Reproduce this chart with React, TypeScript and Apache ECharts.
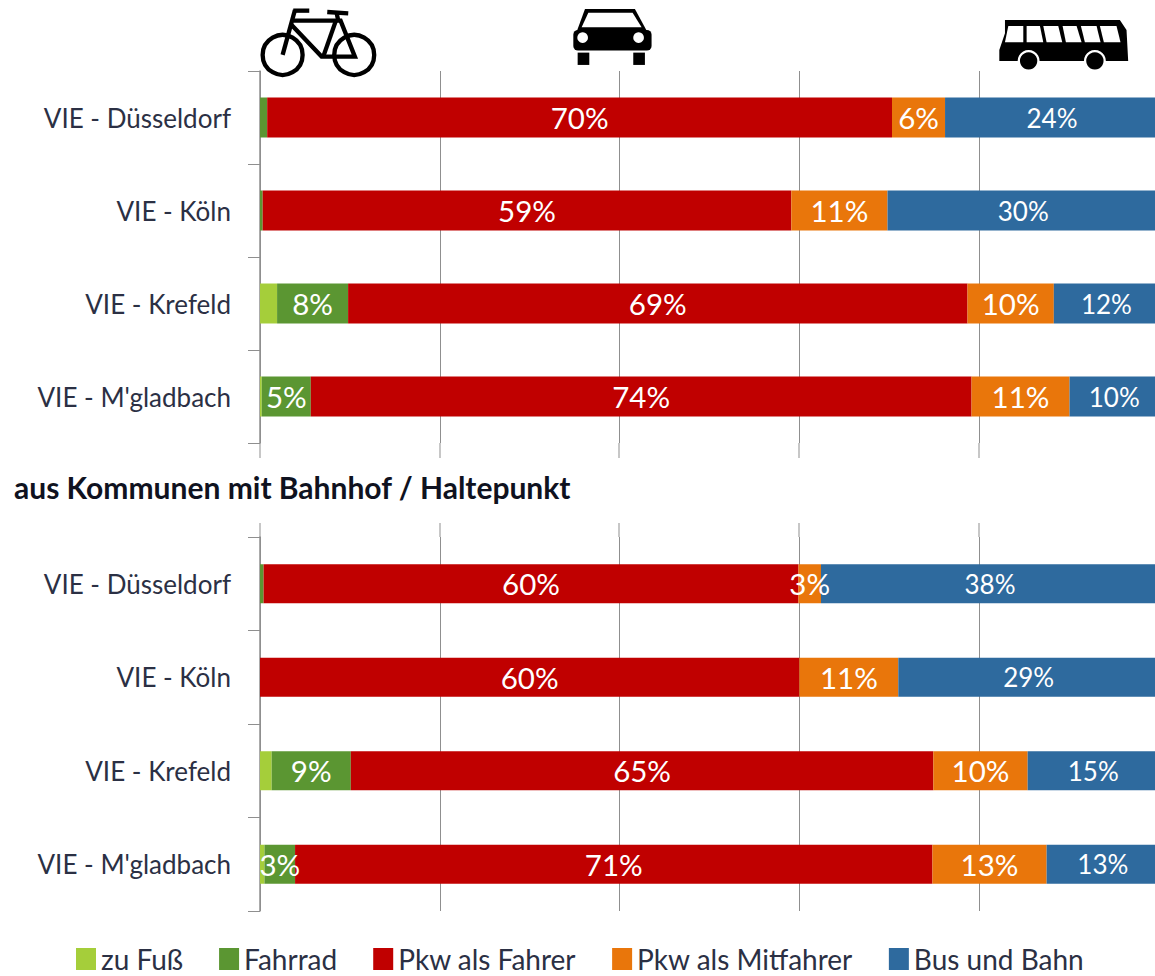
import React, { useEffect, useRef } from "react";
import * as echarts from "echarts";

const categories = ["VIE - Düsseldorf", "VIE - Köln", "VIE - Krefeld", "VIE - M'gladbach"];
const seriesNames = ["zu Fuß", "Fahrrad", "Pkw als Fahrer", "Pkw als Mitfahrer", "Bus und Bahn"];
const colors = ["#A5CE3A", "#5B9632", "#C00000", "#E9760B", "#2E6A9E"];
const title2 = "aus Kommunen mit Bahnhof / Haltepunkt";

const topFoot = [0, 0, 1.9, 0.2];
const topBike = [0.8, 0.3, 7.9, 5.45];
const topDriver = [69.5, 58.8, 68.9, 73.5];
const topPassenger = [5.9, 10.7, 9.6, 10.9];
const topTransit = [23.8, 30.2, 11.7, 9.95];

const bottomFoot = [0, 0, 1.3, 0.5];
const bottomBike = [0.4, 0, 8.8, 3.4];
const bottomDriver = [59.5, 60, 64.8, 70.9];
const bottomPassenger = [2.5, 11, 10.49, 12.7];
const bottomTransit = [37.6, 29, 14.6, 12.5];

const topValues = [topFoot, topBike, topDriver, topPassenger, topTransit];
const bottomValues = [bottomFoot, bottomBike, bottomDriver, bottomPassenger, bottomTransit];

const FONT = "Lato, 'Open Sans', sans-serif";
const INK = "#2B3044";
const LINE = "#8F8F8F";
const GRID_XS = [260, 440, 619, 799, 979];

function bike() {
  const s = { stroke: "#000", fill: "none", lineWidth: 13 };
  return {
    type: "group", x: 240, y: 0, scaleX: 1 / 3, scaleY: 1 / 3,
    children: [
      { type: "circle", shape: { cx: 128, cy: 165, r: 60 }, style: s },
      { type: "circle", shape: { cx: 343, cy: 165, r: 60 }, style: s },
      { type: "polyline", shape: { points: [[128, 165], [165, 30]] }, style: s },
      { type: "polyline", shape: { points: [[160, 62], [302, 62], [345, 170], [245, 170], [155, 75]] }, style: s },
      { type: "polyline", shape: { points: [[250, 170], [288, 62]] }, style: s },
      { type: "polyline", shape: { points: [[295, 62], [290, 38]] }, style: s },
      { type: "polyline", shape: { points: [[262, 36], [325, 40]] }, style: s },
      { type: "polyline", shape: { points: [[160, 32], [208, 32]] }, style: s },
    ],
  };
}

function car() {
  const black = { fill: "#000" };
  const white = { fill: "#fff" };
  return {
    type: "group", x: 560, y: 0, scaleX: 1 / 3, scaleY: 1 / 3,
    children: [
      { type: "polygon", shape: { points: [[75, 27], [225, 27], [262, 95], [50, 95]] }, style: black },
      { type: "rect", shape: { x: 40, y: 90, width: 235, height: 62, r: 14 }, style: black },
      { type: "polygon", shape: { points: [[85, 38], [218, 38], [245, 82], [65, 82]] }, style: white },
      { type: "circle", shape: { cx: 68, cy: 113, r: 16 }, style: white },
      { type: "circle", shape: { cx: 236, cy: 113, r: 16 }, style: white },
      { type: "rect", shape: { x: 53, y: 158, width: 35, height: 37 }, style: black },
      { type: "rect", shape: { x: 220, y: 158, width: 35, height: 37 }, style: black },
    ],
  };
}

function bus() {
  const black = { fill: "#000" };
  const white = { fill: "#fff" };
  const windows = [
    [[85, 78], [130, 78], [130, 127], [75, 127]],
    [[140, 78], [180, 78], [190, 127], [140, 127]],
    [[190, 78], [235, 78], [247, 127], [200, 127]],
    [[248, 78], [290, 78], [305, 127], [258, 127]],
    [[303, 78], [350, 78], [362, 127], [315, 127]],
    [[360, 78], [410, 78], [422, 127], [372, 127]],
  ];
  return {
    type: "group", x: 980, y: 0, scaleX: 1 / 3, scaleY: 1 / 3,
    children: [
      { type: "polygon", shape: { points: [[75, 60], [420, 60], [440, 90], [445, 183], [58, 183], [58, 150], [75, 100]] }, style: black },
      ...windows.map((points) => ({ type: "polygon", shape: { points }, style: white })),
      { type: "circle", shape: { cx: 146, cy: 183, r: 33 }, style: white },
      { type: "circle", shape: { cx: 146, cy: 183, r: 26 }, style: black },
      { type: "circle", shape: { cx: 345, cy: 183, r: 33 }, style: white },
      { type: "circle", shape: { cx: 345, cy: 183, r: 26 }, style: black },
    ],
  };
}

function extensions() {
  const out: any[] = [];
  for (const x of GRID_XS) {
    out.push({ type: "line", z: 0, shape: { x1: x, y1: 443, x2: x, y2: 458 }, style: { stroke: LINE, lineWidth: 1 } });
    out.push({ type: "line", z: 0, shape: { x1: x, y1: 523, x2: x, y2: 537 }, style: { stroke: LINE, lineWidth: 1 } });
  }
  return out;
}

function makeSeries(values: number[][], axisIndex: number, stack: string, barWidth: number) {
  return values.map((data, i) => ({
    name: seriesNames[i],
    type: "bar",
    stack,
    xAxisIndex: axisIndex,
    yAxisIndex: axisIndex,
    barWidth,
    data,
    itemStyle: { color: colors[i] },
    label: {
      show: i > 0,
      position: "inside",
      color: "#fff",
      fontFamily: FONT,
      fontSize: i === 4 ? 26 : 29.5,
      formatter: (p: any) => (p.value >= 2 ? `${Math.round(p.value)}%` : ""),
    },
  }));
}

function catAxis(gridIndex: number) {
  return {
    type: "category",
    gridIndex,
    inverse: true,
    data: categories,
    axisLine: { show: true, lineStyle: { color: LINE, width: 1.5 } },
    axisTick: { show: true, alignWithLabel: false, length: 12, lineStyle: { color: LINE, width: 1 } },
    axisLabel: { margin: 29, fontFamily: FONT, fontSize: 26, color: INK },
  };
}

function valAxis(gridIndex: number) {
  return {
    type: "value",
    gridIndex,
    min: 0,
    max: 100,
    interval: 20,
    axisLabel: { show: false },
    axisLine: { show: false },
    axisTick: { show: false },
    splitLine: { show: true, lineStyle: { color: LINE, width: 1 } },
  };
}

export default function App() {
  const ref = useRef<HTMLDivElement>(null);
  useEffect(() => {
    document.body.style.margin = "0";
    const chart = echarts.init(ref.current!, undefined, { renderer: "svg" });
    chart.setOption({
      animation: false,
      backgroundColor: "#fff",
      title: {
        text: title2,
        left: 14,
        top: 472,
        padding: 0,
        textStyle: { fontFamily: FONT, fontSize: 30, fontWeight: "bold", color: "#0F1220" },
      },
      legend: {
        data: seriesNames,
        left: 76,
        top: 945,
        padding: 0,
        itemWidth: 20,
        itemHeight: 22,
        itemGap: 36,
        icon: "rect",
        textStyle: { fontFamily: FONT, fontSize: 28, lineHeight: 28, color: INK },
      },
      grid: [
        { left: 260, top: 71, width: 899, height: 372, outerBoundsMode: "none" },
        { left: 260, top: 537, width: 899, height: 374, outerBoundsMode: "none" },
      ],
      xAxis: [valAxis(0), valAxis(1)],
      yAxis: [catAxis(0), catAxis(1)],
      series: [...makeSeries(topValues, 0, "top", 40), ...makeSeries(bottomValues, 1, "bottom", 39)],
      graphic: { elements: [...extensions(), bike(), car(), bus()] },
    });
    return () => chart.dispose();
  }, []);
  return <div ref={ref} style={{ width: 1155, height: 976, overflow: "hidden" }} />;
}
